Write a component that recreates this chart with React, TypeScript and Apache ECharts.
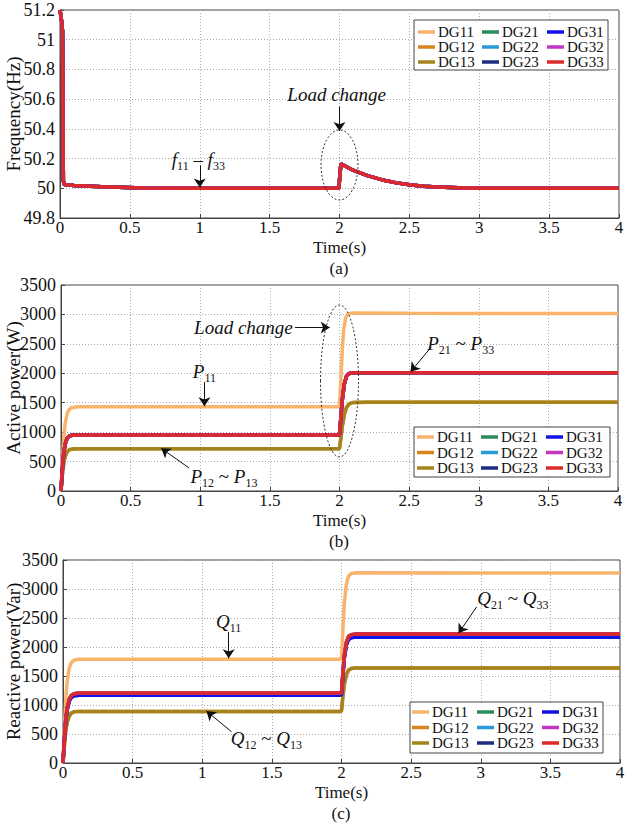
import React, { useEffect, useRef } from 'react';
import * as echarts from 'echarts';

const SERIF = 'Liberation Serif, serif';
const INK = '#111';
const FRAME = '#444';

const seriesNames = ['DG11', 'DG12', 'DG13', 'DG21', 'DG22', 'DG23', 'DG31', 'DG32', 'DG33'];
const seriesColors = ['#F8B46C', '#D8861C', '#A4841C', '#2E8B5E', '#2A9AD6', '#1C2C82', '#1414E6', '#C236C2', '#DC2A2A'];

const timeMin = 0;
const timeMax = 4;
const timeInterval = 0.5;

// (a) Frequency (Hz): all nine DGs share the same trajectory
const freqCommon: [number, number][] = [
  [0, 51.2], [0.005, 51.17], [0.012, 51.12], [0.018, 51.06], [0.021, 50.6], [0.024, 50.05],
  [0.03, 50.025], [0.1, 50.018], [0.3, 50.01], [0.6, 50.002], [1, 50], [1.5, 50], [1.995, 50],
  [2.0, 50.0], [2.01, 50.165], [2.05, 50.145], [2.1, 50.12], [2.2, 50.085], [2.3, 50.058],
  [2.4, 50.038], [2.5, 50.024], [2.6, 50.014], [2.7, 50.008], [2.85, 50.003], [3, 50.001],
  [3.5, 50], [4, 50],
];

// (b) Active power (W)
const activeP11: [number, number][] = [
  [0, 0], [0.01, 500], [0.02, 900], [0.03, 1150], [0.045, 1320], [0.06, 1390], [0.08, 1420],
  [0.12, 1430], [1.99, 1430], [2.0, 1440], [2.01, 1900], [2.02, 2400], [2.03, 2750],
  [2.045, 2950], [2.06, 3010], [2.1, 3025], [2.5, 3020], [4, 3015],
];
const activeP12toP13: [number, number][] = [
  [0, 0], [0.01, 280], [0.02, 480], [0.03, 590], [0.045, 670], [0.06, 700], [0.08, 712],
  [0.12, 716], [1.99, 716], [2.0, 720], [2.01, 900], [2.02, 1100], [2.035, 1300], [2.05, 1420],
  [2.07, 1480], [2.1, 1505], [2.2, 1510], [4, 1508],
];
const activeP21toP33: [number, number][] = [
  [0, 0], [0.01, 380], [0.02, 650], [0.03, 800], [0.045, 900], [0.06, 935], [0.08, 948],
  [0.12, 952], [1.99, 952], [2.0, 960], [2.01, 1250], [2.02, 1550], [2.035, 1820], [2.05, 1950],
  [2.07, 1995], [2.1, 2008], [2.3, 2010], [4, 2008],
];

// (c) Reactive power (Var)
const reactiveQ11: [number, number][] = [
  [0, 0], [0.01, 600], [0.02, 1100], [0.03, 1400], [0.045, 1640], [0.06, 1730], [0.08, 1775],
  [0.12, 1790], [1.99, 1790], [2.0, 1800], [2.01, 2300], [2.02, 2750], [2.035, 3080],
  [2.05, 3220], [2.07, 3265], [2.1, 3280], [4, 3275],
];
const reactiveQ12toQ13: [number, number][] = [
  [0, 0], [0.01, 300], [0.02, 560], [0.03, 700], [0.045, 810], [0.06, 860], [0.08, 882],
  [0.12, 890], [1.99, 890], [2.0, 900], [2.01, 1150], [2.02, 1350], [2.035, 1520], [2.05, 1600],
  [2.07, 1630], [2.1, 1640], [4, 1640],
];
const reactiveUpper: [number, number][] = [
  [0, 0], [0.01, 420], [0.02, 760], [0.03, 950], [0.045, 1100], [0.06, 1165], [0.08, 1195],
  [0.12, 1205], [1.99, 1205], [2.0, 1215], [2.01, 1550], [2.02, 1850], [2.035, 2080],
  [2.05, 2180], [2.07, 2210], [2.1, 2222], [4, 2222],
];
const reactiveLower: [number, number][] = [
  [0, 0], [0.01, 400], [0.02, 730], [0.03, 915], [0.045, 1065], [0.06, 1130], [0.08, 1160],
  [0.12, 1170], [1.99, 1170], [2.0, 1180], [2.01, 1500], [2.02, 1800], [2.035, 2030],
  [2.05, 2130], [2.07, 2160], [2.1, 2170], [4, 2170],
];

const freqData = [freqCommon, freqCommon, freqCommon, freqCommon, freqCommon, freqCommon, freqCommon, freqCommon, freqCommon];
const activeData = [activeP11, activeP12toP13, activeP12toP13, activeP21toP33, activeP21toP33, activeP21toP33, activeP21toP33, activeP21toP33, activeP21toP33];
const reactiveData = [reactiveQ11, reactiveQ12toQ13, reactiveQ12toQ13, reactiveUpper, reactiveUpper, reactiveLower, reactiveLower, reactiveUpper, reactiveUpper];

const yNames = ['Frequency(Hz)', 'Active power(W)', 'Reactive power(Var)'];
const yMins = [49.8, 0, 0];
const yMaxs = [51.2, 3500, 3500];
const yIntervals = [0.2, 500, 500];
const panelTags = ['(a)', '(b)', '(c)'];

// annotations in data coordinates
const arrowsA = [
  { from: [1.0, 50.155], to: [1.0, 50.005] },
  { from: [2.0, 50.55], to: [2.0, 50.385] },
];
const arrowsB = [
  { from: [1.68, 2780], to: [1.93, 2780] },
  { from: [1.03, 1850], to: [1.03, 1440] },
  { from: [2.66, 2450], to: [2.51, 2025] },
  { from: [0.92, 390], to: [0.72, 725] },
];
const arrowsC = [
  { from: [1.19, 2260], to: [1.19, 1805] },
  { from: [2.97, 2690], to: [2.84, 2235] },
  { from: [1.21, 540], to: [1.03, 895] },
];
const labelsA = [
  { at: [0.99, 50.19], text: '{i|f}{s|11}{n| – }{i|f}{s|33}' },
  { at: [1.98, 50.63], text: '{i|Load change}' },
];
const labelsB = [
  { at: [1.31, 2770], text: '{i|Load change}' },
  { at: [1.03, 2022], text: '{i|P}{s|11}' },
  { at: [2.87, 2497], text: '{i|P}{s|21}{n| ~ }{i|P}{s|33}' },
  { at: [1.17, 238], text: '{i|P}{s|12}{n| ~ }{i|P}{s|13}' },
];
const labelsC = [
  { at: [1.19, 2430], text: '{i|Q}{s|11}' },
  { at: [3.23, 2828], text: '{i|Q}{s|21}{n| ~ }{i|Q}{s|33}' },
  { at: [1.46, 414], text: '{i|Q}{s|12}{n| ~ }{i|Q}{s|13}' },
];
const ellipseA = [[2.0, 50.157]];
const ellipseB = [[2.0, 1869]];

// layout (pixels)
const grids = [
  { left: 60, top: 10, width: 559, height: 208, nameGapX: 20.5, nameGapY: 37 },
  { left: 61, top: 285, width: 557, height: 206, nameGapX: 20.5, nameGapY: 38 },
  { left: 63, top: 560, width: 557, height: 203, nameGapX: 20.5, nameGapY: 40 },
];
const legendBoxes = [
  { x: 414, y: 20, w: 194, h: 50, cols: [418, 482, 547], top: 24.5, gap: 0 },
  { x: 414, y: 427, w: 196, h: 50, cols: [417, 481, 546], top: 429.5, gap: 0.5 },
  { x: 410, y: 702, w: 193, h: 51, cols: [412, 477, 542], top: 704.5, gap: 0.5 },
];
const tagPos = [[339, 268.5], [339, 541.5], [341, 813.5]];
const ellipseSizes = [[18.5, 35], [19, 76]];

const rich = {
  i: { fontFamily: SERIF, fontStyle: 'italic', fontSize: 19, lineHeight: 20, verticalAlign: 'top', color: INK },
  s: { fontFamily: SERIF, fontSize: 12, lineHeight: 12, padding: [10, 0, 0, 0], verticalAlign: 'top', color: INK },
  n: { fontFamily: SERIF, fontSize: 19, lineHeight: 20, verticalAlign: 'top', color: INK },
};

const plainNumber = (v: number) => String(Math.round(v * 1000) / 1000);

export default function App() {
  const ref = useRef<HTMLDivElement>(null);
  useEffect(() => {
    if (!ref.current) return;
    const chart = echarts.init(ref.current, undefined, { renderer: 'svg' });
    const allData = [freqData, activeData, reactiveData];
    const arrows = [arrowsA, arrowsB, arrowsC];
    const labels = [labelsA, labelsB, labelsC];

    const series: any[] = [];
    allData.forEach((dataSet, g) => {
      dataSet.forEach((d, k) => {
        series.push({
          type: 'line',
          name: seriesNames[k],
          xAxisIndex: g,
          yAxisIndex: g,
          data: d,
          symbol: 'none',
          showSymbol: false,
          lineStyle: { width: 3.5, color: seriesColors[k] },
          itemStyle: { color: seriesColors[k] },
          z: 2,
        });
      });
      series.push({
        type: 'line',
        name: 'annot' + g,
        xAxisIndex: g,
        yAxisIndex: g,
        data: [],
        silent: true,
        z: 6,
        markLine: {
          silent: true,
          symbol: ['none', 'arrow'],
          symbolSize: 9,
          lineStyle: { color: INK, width: 1, type: 'solid' },
          label: { show: false },
          data: arrows[g].map((a) => [{ coord: a.from }, { coord: a.to }]),
        },
        markPoint: {
          silent: true,
          symbol: 'circle',
          symbolSize: 1,
          itemStyle: { color: 'rgba(0,0,0,0)' },
          label: { show: true, position: 'inside', color: INK, rich },
          data: labels[g].map((l) => ({ coord: l.at, label: { formatter: l.text, rich } })),
        },
      });
    });
    [ellipseA, ellipseB].forEach((ed, g) => {
      series.push({
        type: 'custom',
        name: 'ellipse' + g,
        xAxisIndex: g,
        yAxisIndex: g,
        data: ed,
        silent: true,
        z: 5,
        renderItem: (params: any, api: any) => {
          const c = api.coord([api.value(0), api.value(1)]);
          return {
            type: 'ellipse',
            shape: { cx: c[0], cy: c[1], rx: ellipseSizes[g][0], ry: ellipseSizes[g][1] },
            style: { fill: 'none', stroke: '#333', lineWidth: 1, lineDash: [2, 2] },
          };
        },
      });
    });

    const legends: any[] = [];
    legendBoxes.forEach((b) => {
      for (let c = 0; c < 3; c++) {
        legends.push({
          orient: 'vertical',
          left: b.cols[c],
          top: b.top,
          padding: 0,
          itemGap: b.gap,
          itemWidth: 17,
          itemHeight: 3.5,
          icon: 'rect',
          z: 6,
          selectedMode: false,
          textStyle: { fontFamily: SERIF, fontSize: 15, lineHeight: 15, color: INK, padding: [0, 0, 0, -2] },
          data: [seriesNames[c * 3], seriesNames[c * 3 + 1], seriesNames[c * 3 + 2]],
        });
      }
    });

    const graphic: any[] = [];
    legendBoxes.forEach((b) => {
      graphic.push({
        type: 'rect',
        z: 4,
        shape: { x: b.x, y: b.y, width: b.w, height: b.h },
        style: { fill: '#fff', stroke: FRAME, lineWidth: 1 },
      });
    });
    panelTags.forEach((t, g) => {
      graphic.push({
        type: 'text',
        x: tagPos[g][0],
        y: tagPos[g][1],
        z: 6,
        style: { text: t, fill: INK, font: `17px ${SERIF}`, textAlign: 'center', textVerticalAlign: 'middle' },
      });
    });

    chart.setOption({
      animation: false,
      backgroundColor: '#fff',
      textStyle: { fontFamily: SERIF },
      grid: grids.map((g) => ({
        left: g.left, top: g.top, width: g.width, height: g.height,
        outerBoundsMode: 'none',
        containLabel: false,
        show: true, borderColor: FRAME, borderWidth: 1, backgroundColor: '#fff',
      })),
      xAxis: grids.map((g, i) => ({
        type: 'value',
        gridIndex: i,
        min: timeMin,
        max: timeMax,
        interval: timeInterval,
        name: 'Time(s)',
        nameLocation: 'middle',
        nameGap: g.nameGapX,
        nameMoveOverlap: false,
        nameTextStyle: { fontFamily: SERIF, fontSize: 17, color: INK },
        axisLine: { show: true, lineStyle: { color: FRAME } },
        axisTick: { show: true, inside: true, length: 4, lineStyle: { color: FRAME } },
        axisLabel: { fontFamily: SERIF, fontSize: 17, color: INK, margin: 1, formatter: plainNumber, hideOverlap: false },
        splitLine: { show: true, lineStyle: { color: '#aaa', type: [1, 2], width: 1 } },
      })),
      yAxis: grids.map((g, i) => ({
        type: 'value',
        gridIndex: i,
        min: yMins[i],
        max: yMaxs[i],
        interval: yIntervals[i],
        name: yNames[i],
        nameLocation: 'middle',
        nameGap: g.nameGapY,
        nameMoveOverlap: false,
        nameTextStyle: { fontFamily: SERIF, fontSize: 19, color: INK },
        axisLine: { show: true, lineStyle: { color: FRAME } },
        axisTick: { show: true, inside: true, length: 4, lineStyle: { color: FRAME } },
        axisLabel: { fontFamily: SERIF, fontSize: 18, color: INK, margin: 5, formatter: plainNumber, hideOverlap: false },
        splitLine: { show: true, lineStyle: { color: '#aaa', type: [1, 2], width: 1 } },
      })),
      legend: legends,
      graphic,
      series,
    });
    return () => chart.dispose();
  }, []);
  return <div ref={ref} style={{ position: 'absolute', left: 0, top: 0, width: 630, height: 827, background: '#fff' }} />;
}
